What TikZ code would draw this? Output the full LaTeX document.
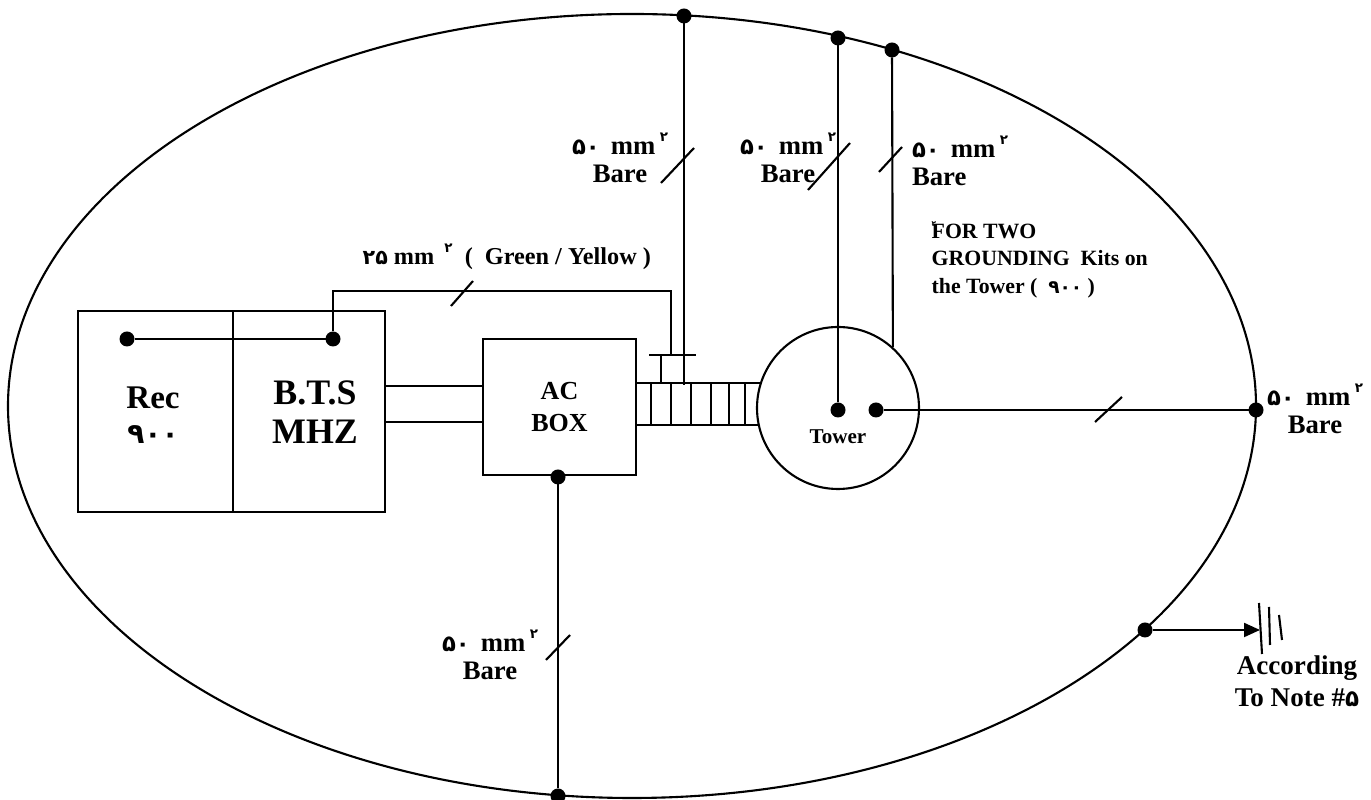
\documentclass[tikz,border=0pt]{standalone}
\usepackage{fontspec}
\setmainfont{Liberation Serif}
\newfontfamily\arabicfont[Script=Arabic,Scale=0.85]{DejaVu Sans}
\usetikzlibrary{arrows.meta}
\newcommand{\ar}[1]{{\arabicfont #1}}
\newcommand{\sq}{\,\raisebox{1.1ex}{\arabicfont\fontsize{4.5}{5}\selectfont ۲}}
\tikzset{
  >={Triangle[length=1.6mm,width=1.4mm]},
  wire/.style  ={line width=0.6pt},
  blockbox/.style={draw, line width=0.6pt, inner sep=0pt, align=center, font=\bfseries\fontsize{9.6}{11.5}\selectfont},
  dot/.style   ={circle, fill=black, inner sep=0pt, outer sep=0pt, minimum size=0.15cm},
  lbl/.style   ={font=\bfseries\fontsize{7.6}{8}\selectfont, align=center, inner sep=0pt},
}

\begin{document}
\begin{tikzpicture}[line cap=butt, line join=miter]
  \useasboundingbox (0,0) rectangle (13.71,8);

  %--- Ring around the site ---
  \draw[wire] (6.32,3.94) ellipse (6.24 and 3.92);

  %--- Blocks ---
  \node[blockbox, minimum width=1.55cm, minimum height=2.01cm] (rec) at (1.555,3.885) {};
  \node[blockbox, minimum width=1.52cm, minimum height=2.01cm] (bts) at (3.09,3.885) {};
  \node[blockbox, font=\bfseries\fontsize{7.4}{9}\selectfont, minimum width=1.53cm, minimum height=1.36cm] (acbox) at (5.595,3.93) {AC\\BOX};
  \node[draw, circle, line width=0.6pt, minimum size=1.62cm, inner sep=0pt] (tower) at (8.38,3.92) {};
  \node[lbl, font=\bfseries\fontsize{6}{7}\selectfont] (towerlbl) at (8.38,3.63) {Tower};
  \node[lbl, font=\bfseries\fontsize{9.4}{10}\selectfont] (reclbl) at (1.53,3.85) {Rec\\\ar{۹۰۰}};
  \node[lbl, font=\bfseries\fontsize{10.2}{11}\selectfont] (btslbl) at (3.15,3.88) {B.T.S\\MHZ};

  %--- Dots ---
  \node[dot] (d1) at (1.27,4.61) {};
  \node[dot] (d2) at (3.33,4.61) {};
  \node[dot] (d3) at (6.84,7.84) {};
  \node[dot] (d4) at (8.38,7.62) {};
  \node[dot] (d5) at (8.92,7.50) {};
  \node[dot] (d6) at (8.38,3.90) {};
  \node[dot] (d7) at (8.76,3.90) {};
  \node[dot] (d8) at (12.56,3.90) {};
  \node[dot] (d9) at (5.58,3.23) {};
  \node[dot] (d10) at (5.58,0.04) {};
  \node[dot] (d11) at (11.45,1.70) {};

  %--- Wires ---
  \draw[wire] (d1) -- (d2);
  \draw[wire] (d2) |- (6.71,5.09) -- (6.71,4.45);
  \draw[wire] (d3) -- (6.84,4.15);
  \draw[wire] (d4) -- (d6);
  \draw[wire] (d5) -- (tower.48);
  \draw[wire] (d7) -- (d8);
  \draw[wire] (d9) -- (d10);

  % links between B.T.S and AC box
  \draw[wire] (3.85,4.14) -- (4.83,4.14);
  \draw[wire] (3.85,3.78) -- (4.83,3.78);

  % ladder between AC box and tower
  \draw[wire] (6.36,4.17) -- (7.6,4.17);
  \draw[wire] (6.36,3.75) -- (7.58,3.75);
  \foreach \xtie in {6.51,6.71,6.91,7.11,7.29,7.45}
    \draw[wire] (\xtie,4.17) -- (\xtie,3.75);

  % bar on the ladder
  \draw[wire] (6.49,4.45) -- (6.96,4.45);
  \draw[wire] (6.61,4.45) -- (6.61,4.17);

  %--- Ticks on the wires ---
  \draw[wire] (4.51,4.94) -- (4.73,5.19);
  \draw[wire] (6.61,6.17) -- (6.94,6.52);
  \draw[wire] (8.08,6.10) -- (8.50,6.57);
  \draw[wire] (8.79,6.28) -- (9.02,6.53);
  \draw[wire] (10.95,3.78) -- (11.22,4.03);
  \draw[wire] (5.46,1.40) -- (5.70,1.65);

  %--- Ground ---
  \coordinate (gnd) at (12.6,1.70);
  \draw[wire, ->] (d11) -- (gnd);
  \draw[wire] (12.59,1.97) -- (12.62,1.46);
  \draw[wire] (12.69,1.93) -- (12.70,1.55);
  \draw[wire] (12.79,1.85) -- (12.82,1.60);

  %--- Labels ---
  \node[lbl] (l1) at (6.20,6.42) {\ar{۵۰} \,mm\sq\\Bare};
  \node[lbl] (l2) at (7.88,6.42) {\ar{۵۰} \,mm\sq\\Bare};
  \node[lbl, align=left] (l3) at (9.60,6.39) {\ar{۵۰} \,mm\sq\\Bare};
  \node[lbl] (l4) at (13.15,3.91) {\ar{۵۰} \,mm\sq\\Bare};
  \node[lbl] (l5) at (4.90,1.45) {\ar{۵۰} \,mm\sq\\Bare};
  \node[lbl, anchor=west, font=\bfseries\fontsize{6.9}{8}\selectfont] (l6) at (3.62,5.43) {\ar{۲۵} mm \sq\ \ (\ \ Green / Yellow )};
  \node[lbl, anchor=north west, align=left, font=\bfseries\fontsize{6.2}{7.8}\selectfont] (l7) at (9.31,5.79)
    {\rlap{\raisebox{1.2ex}{\arabicfont\fontsize{2.5}{3}\selectfont ۲}}FOR TWO\\GROUNDING \ Kits on\\the Tower ( \ \ar{۹۰۰} )};
  \node[lbl, font=\bfseries\fontsize{7.7}{9.1}\selectfont] (l8) at (12.97,1.19) {According\\To Note \#\ar{۵}};
\end{tikzpicture}
\end{document}
